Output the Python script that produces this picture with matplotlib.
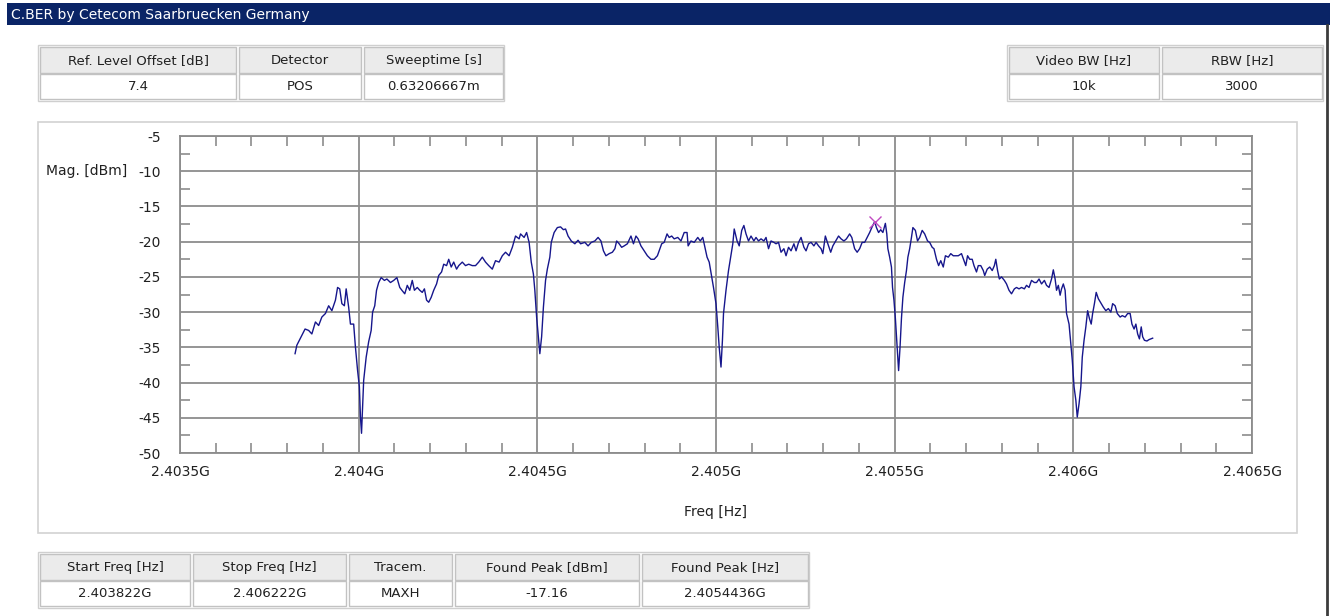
import matplotlib
matplotlib.use('Agg')
import matplotlib.pyplot as plt
import matplotlib.transforms as mtransforms
from matplotlib.patches import Rectangle
from matplotlib.ticker import MultipleLocator

title = 'C.BER by Cetecom Saarbruecken Germany'

top_left_head = ['Ref. Level Offset [dB]', 'Detector', 'Sweeptime [s]']
top_left_vals = ['7.4', 'POS', '0.63206667m']
top_right_head = ['Video BW [Hz]', 'RBW [Hz]']
top_right_vals = ['10k', '3000']
bottom_head = ['Start Freq [Hz]', 'Stop Freq [Hz]', 'Tracem.', 'Found Peak [dBm]', 'Found Peak [Hz]']
bottom_vals = ['2.403822G', '2.406222G', 'MAXH', '-17.16', '2.4054436G']

xticks_mhz = [2403.5, 2404.0, 2404.5, 2405.0, 2405.5, 2406.0, 2406.5]
xtick_labels = ['2.4035G', '2.404G', '2.4045G', '2.405G', '2.4055G', '2.406G', '2.4065G']
yticks = [-5, -10, -15, -20, -25, -30, -35, -40, -45, -50]

peak_freq_mhz = 2405.4436
peak_level = -17.16

# trace (MHz, dBm)
freq_mhz = [
    2403.822, 2403.827, 2403.836, 2403.850, 2403.860, 2403.869, 2403.879, 2403.888, 2403.897, 2403.907,
    2403.916, 2403.925, 2403.935, 2403.941, 2403.947, 2403.953, 2403.960, 2403.965, 2403.972, 2403.977,
    2403.986, 2403.991, 2403.997, 2404.002, 2404.005, 2404.008, 2404.011, 2404.014, 2404.021, 2404.028,
    2404.035, 2404.039, 2404.045, 2404.050, 2404.056, 2404.063, 2404.072, 2404.079, 2404.089, 2404.098,
    2404.107, 2404.115, 2404.121, 2404.129, 2404.136, 2404.143, 2404.150, 2404.156, 2404.164, 2404.171,
    2404.178, 2404.184, 2404.190, 2404.196, 2404.203, 2404.210, 2404.218, 2404.224, 2404.232, 2404.238,
    2404.246, 2404.252, 2404.259, 2404.266, 2404.274, 2404.280, 2404.290, 2404.299, 2404.308, 2404.318,
    2404.327, 2404.336, 2404.346, 2404.355, 2404.364, 2404.374, 2404.383, 2404.393, 2404.402, 2404.411,
    2404.421, 2404.430, 2404.439, 2404.449,
    2404.453, 2404.463, 2404.470, 2404.477, 2404.483, 2404.489, 2404.493, 2404.498, 2404.503, 2404.507,
    2404.512, 2404.517, 2404.523, 2404.528, 2404.535, 2404.539, 2404.547, 2404.556, 2404.565, 2404.573,
    2404.579, 2404.586, 2404.595, 2404.605, 2404.614, 2404.621, 2404.633, 2404.642, 2404.651, 2404.661,
    2404.670, 2404.678, 2404.685, 2404.692, 2404.701, 2404.710, 2404.717, 2404.722, 2404.729, 2404.736,
    2404.743, 2404.752, 2404.762, 2404.769, 2404.776, 2404.782, 2404.790, 2404.799, 2404.808, 2404.818,
    2404.827, 2404.836, 2404.843, 2404.848, 2404.855, 2404.863, 2404.869, 2404.876, 2404.883, 2404.893,
    2404.902, 2404.911, 2404.919, 2404.922, 2404.930, 2404.939, 2404.949, 2404.956, 2404.963, 2404.969,
    2404.975, 2404.981, 2404.988, 2404.993, 2405.000, 2405.005, 2405.009, 2405.014, 2405.018, 2405.021,
    2405.028, 2405.035, 2405.040, 2405.047, 2405.051, 2405.059, 2405.065,
    2405.072, 2405.078, 2405.084, 2405.091, 2405.098, 2405.106, 2405.112, 2405.119, 2405.126, 2405.134,
    2405.140, 2405.147, 2405.154, 2405.162, 2405.168, 2405.175, 2405.182, 2405.190, 2405.196, 2405.203,
    2405.210, 2405.218, 2405.224, 2405.231, 2405.238, 2405.246, 2405.252, 2405.259, 2405.266, 2405.274,
    2405.280, 2405.287, 2405.294, 2405.299, 2405.306, 2405.313, 2405.321, 2405.327, 2405.335, 2405.343,
    2405.350, 2405.358, 2405.365, 2405.374, 2405.380, 2405.388, 2405.395, 2405.402, 2405.409, 2405.416,
    2405.423, 2405.430, 2405.436, 2405.444, 2405.449, 2405.455, 2405.461, 2405.467, 2405.474, 2405.478,
    2405.481, 2405.486, 2405.491, 2405.494, 2405.498, 2405.502, 2405.507, 2405.511, 2405.515, 2405.519,
    2405.523, 2405.528, 2405.533, 2405.537, 2405.542, 2405.547, 2405.551, 2405.558, 2405.564, 2405.570,
    2405.577, 2405.584, 2405.592, 2405.598, 2405.605, 2405.610, 2405.617, 2405.623, 2405.629, 2405.636,
    2405.642, 2405.650, 2405.657, 2405.664, 2405.673,
    2405.678, 2405.687, 2405.694, 2405.699, 2405.704, 2405.710, 2405.717, 2405.722, 2405.729, 2405.734,
    2405.741, 2405.748, 2405.752, 2405.759, 2405.766, 2405.773, 2405.779, 2405.783, 2405.788, 2405.793,
    2405.799, 2405.807, 2405.813, 2405.820, 2405.827, 2405.835, 2405.841, 2405.848, 2405.855, 2405.863,
    2405.869, 2405.876, 2405.883, 2405.891, 2405.897, 2405.904, 2405.911, 2405.919, 2405.925, 2405.932,
    2405.939, 2405.944, 2405.949, 2405.953, 2405.958, 2405.963, 2405.967, 2405.972, 2405.977, 2405.981,
    2405.988, 2405.993, 2405.997, 2406.002, 2406.007, 2406.011, 2406.016, 2406.021, 2406.025, 2406.030,
    2406.035, 2406.040, 2406.045, 2406.050, 2406.054, 2406.059, 2406.064, 2406.070, 2406.078, 2406.084,
    2406.091, 2406.098, 2406.105, 2406.110, 2406.117, 2406.123, 2406.131, 2406.137, 2406.145, 2406.152,
    2406.159, 2406.164, 2406.170, 2406.175, 2406.180, 2406.185, 2406.190, 2406.194, 2406.199, 2406.206,
    2406.212, 2406.222,
]
level_dbm = [
    -35.9, -34.7, -33.8, -32.4, -32.6, -33.1, -31.4, -31.9, -30.7, -30.2,
    -29.1, -29.8, -28.3, -26.5, -26.7, -28.8, -29.1, -26.7, -29.3, -31.7,
    -31.7, -35.0, -38.3, -40.6, -44.9, -47.2, -43.4, -39.7, -36.4, -34.2,
    -32.6, -30.0, -29.1, -26.9, -25.8, -25.1, -25.5, -25.3, -25.8, -25.5,
    -25.1, -26.5, -26.9, -27.4, -26.2, -26.9, -25.5, -26.9, -26.5, -26.9,
    -27.2, -26.7, -28.3, -28.6, -27.9, -26.9, -26.0, -24.8, -24.3, -23.2,
    -23.4, -22.5, -23.6, -22.9, -23.9, -23.4, -22.9, -23.4, -23.2, -23.4,
    -23.4, -22.9, -22.2, -22.9, -23.4, -23.9, -22.7, -22.9, -22.0, -21.5,
    -22.0, -20.8, -19.2, -19.6,
    -18.9, -19.4, -18.7, -20.1, -22.9, -24.6, -26.9, -30.7, -33.5, -35.9,
    -33.5, -29.3, -25.5, -23.9, -22.2, -20.1, -18.7, -18.0, -17.9, -18.3,
    -18.2, -19.2, -19.9, -20.3, -19.8, -20.3, -20.1, -20.6, -20.1, -19.9,
    -19.4, -19.9, -21.3, -22.0, -21.7, -21.5, -21.0, -19.9, -20.3, -20.8,
    -20.6, -20.3, -19.2, -20.3, -19.2, -19.6, -20.6, -21.3, -22.0, -22.5,
    -22.5, -22.0, -21.0, -20.3, -20.1, -18.9, -19.4, -19.2, -19.6, -19.4,
    -19.9, -18.7, -18.7, -20.6, -19.9, -20.1, -19.4, -19.9, -19.4, -20.8,
    -22.2, -22.9, -25.0, -26.5, -28.8, -32.1, -35.0, -37.8, -34.0, -30.2,
    -26.9, -24.1, -22.5, -20.3, -18.2, -19.9, -20.6,
    -18.4, -17.7, -18.9, -19.9, -19.2, -19.9, -19.4, -19.9, -19.6, -19.9,
    -19.4, -21.0, -19.9, -20.1, -20.3, -20.1, -21.5, -21.0, -22.0, -20.8,
    -21.3, -20.3, -21.3, -20.1, -19.4, -20.8, -21.3, -20.3, -20.1, -20.6,
    -20.1, -20.6, -21.0, -21.7, -19.2, -20.3, -21.5, -20.6, -19.9, -19.2,
    -19.6, -19.9, -19.6, -18.9, -19.4, -21.0, -21.5, -21.0, -20.1, -20.1,
    -19.4, -18.7, -18.0, -17.16, -18.0, -18.7, -18.3, -18.7, -17.4, -18.9,
    -21.0, -22.2, -23.6, -26.5, -28.3, -30.9, -35.0, -38.3, -35.0, -30.9,
    -27.9, -25.8, -24.1, -22.2, -21.0, -19.4, -18.0, -18.4, -19.9, -19.4,
    -18.4, -18.9, -19.9, -20.1, -20.8, -21.0, -22.5, -23.4, -22.7, -23.6,
    -22.0, -22.2, -21.7, -22.0, -22.0,
    -22.0, -21.7, -22.7, -23.4, -22.0, -22.5, -22.5, -23.4, -24.3, -23.4,
    -23.4, -24.1, -24.8, -23.9, -23.6, -24.1, -23.4, -22.5, -24.1, -25.3,
    -25.0, -25.5, -26.0, -26.9, -27.4, -26.7, -26.5, -26.7, -26.5, -26.7,
    -26.2, -26.5, -25.5, -25.8, -25.8, -25.3, -26.0, -25.5, -26.2, -26.5,
    -25.3, -24.0, -25.3, -26.9, -26.2, -27.6, -26.7, -26.0, -26.9, -30.2,
    -31.7, -34.5, -36.8, -40.6, -42.5, -44.9, -43.0, -40.6, -36.4, -34.0,
    -32.1, -29.8, -30.9, -31.7, -30.2, -28.8, -27.2, -28.1, -28.8, -29.3,
    -29.8, -29.5, -30.0, -28.8, -29.1, -30.2, -30.7, -30.5, -30.7, -30.2,
    -30.2, -31.7, -32.4, -31.7, -33.1, -33.8, -32.1, -33.5, -34.0, -34.1,
    -33.9, -33.7,
]

W, H = 1330, 616
GRID = '#8c8c8c'
plt.rcParams['font.family'] = ['DejaVu Sans']
fig = plt.figure(figsize=(W / 100, H / 100), dpi=100)
fig.patch.set_facecolor('white')

bg = fig.add_axes([0, 0, 1, 1])
bg.set_xlim(0, W)
bg.set_ylim(H, 0)
bg.axis('off')

# window title bar
bg.add_patch(Rectangle((7, 3), W - 7, 22, fc='#0a2466', ec='none'))
bg.text(11, 14.5, title, color='white', fontsize=10, va='center', ha='left')
bg.plot([1327, 1327], [25, H], color='#3c3c3c', lw=2)


def draw_table(edges, top, heads, vals):
    hh, vh = 29, 27
    bg.add_patch(Rectangle((edges[0], top), edges[-1] - edges[0], hh + vh,
                           fc='white', ec='#cfcfcf', lw=1))
    for i in range(len(heads)):
        a, b = edges[i] + 2, edges[i + 1] - 1
        bg.add_patch(Rectangle((a, top + 2), b - a, hh - 3, fc='#ebebeb', ec='#c2c2c2', lw=1))
        bg.add_patch(Rectangle((a, top + hh), b - a, vh - 2, fc='white', ec='#c2c2c2', lw=1))
        bg.text((a + b) / 2, top + 1 + hh / 2, heads[i], ha='center', va='center',
                fontsize=9.5, color='#202020')
        bg.text((a + b) / 2, top + hh + vh / 2 - 1, vals[i], ha='center', va='center',
                fontsize=9.5, color='#202020')


draw_table([38, 237, 362, 504], 45, top_left_head, top_left_vals)
draw_table([1007, 1160, 1323], 45, top_right_head, top_right_vals)
draw_table([38, 191, 347, 453, 640, 809], 552, bottom_head, bottom_vals)

# plot panel frame
bg.add_patch(Rectangle((38, 122), 1297 - 38, 533 - 122, fc='none', ec='#d2d2d2', lw=1.2))

ax = fig.add_axes([180 / W, 1 - 453 / H, 1072 / W, 317 / H])
ax.patch.set_alpha(0)
ax.plot(freq_mhz, level_dbm, color='#16168c', lw=1.0)
ax.plot([peak_freq_mhz], [peak_level], marker='x', color='#c04ac0', ms=8, mew=1.0, ls='none')

ax.set_xlim(xticks_mhz[0], xticks_mhz[-1])
ax.set_ylim(yticks[-1], yticks[0])
ax.set_xticks(xticks_mhz)
ax.set_xticklabels(xtick_labels)
ax.set_yticks(yticks)
ax.set_yticklabels([str(v) for v in yticks])
ax.xaxis.set_minor_locator(MultipleLocator(0.1))
ax.yaxis.set_minor_locator(MultipleLocator(2.5))
ax.grid(which='major', color=GRID, lw=1.3)
for s in ax.spines.values():
    s.set_color(GRID)
    s.set_linewidth(1.3)
ax.tick_params(which='major', length=0, labelsize=10, labelcolor='#202020')
ax.tick_params(axis='x', which='major', pad=9)
ax.tick_params(axis='y', which='major', pad=14)
ax.tick_params(which='minor', direction='in', length=7, width=1.2, color=GRID,
               top=True, bottom=True, left=True, right=True)

tr = mtransforms.blended_transform_factory(ax.transAxes, ax.transData)
ax.text(-0.0494, -10, 'Mag. [dBm]', transform=tr, ha='right', va='center',
        fontsize=10, color='#202020')
ax.text(0.5, -0.186, 'Freq [Hz]', transform=ax.transAxes, ha='center', va='center',
        fontsize=10, color='#202020')

plt.savefig('out.png', dpi=100)
